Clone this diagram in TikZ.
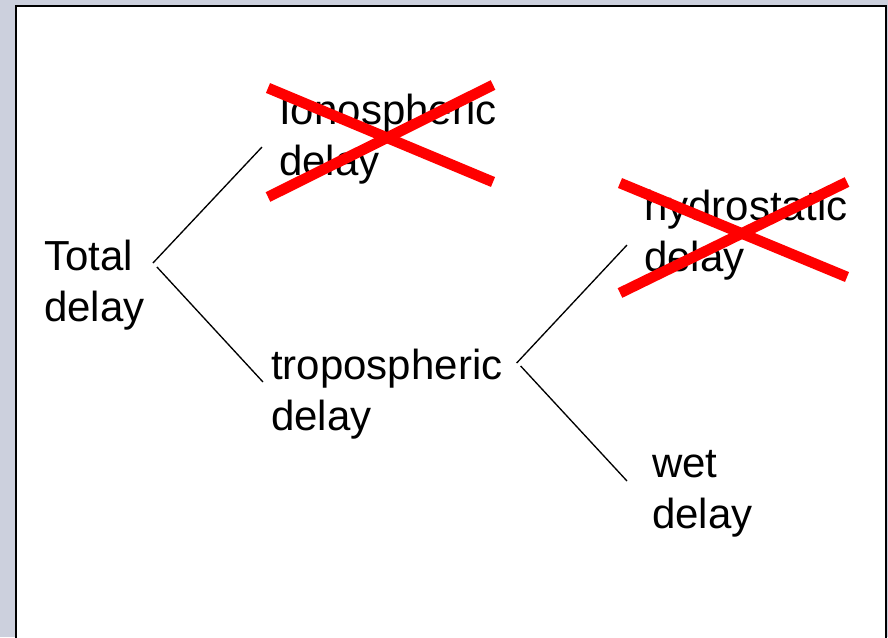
\documentclass[tikz,border=0pt]{standalone}
\usepackage{fontspec}
\setmainfont{Liberation Sans}
\usepackage{tikz}

\definecolor{slidebg}{RGB}{204,208,221}
\tikzset{
  lbl/.style={anchor=base west, inner sep=0pt, align=left, font=\fontsize{31.5}{38.2}\selectfont},
  link/.style={color=black, line width=1pt},
  strike/.style={color=red, line width=8pt}
}

\begin{document}
\begin{tikzpicture}[x=0.75pt,y=0.75pt,yscale=-1,xscale=1]
\useasboundingbox (0,0) rectangle (888,637);
\clip (0,0) rectangle (888,637);

%Background
\fill [slidebg] (0,0) rectangle (888,637);
%Shape: Rectangle
\draw [line width=1.5pt, fill=white] (16,6) rectangle (886,660);

% Text Node
\node [lbl] (total) at (44,321) {Total\\delay};
% Text Node
\node [lbl] (iono) at (279,175) {Ionospheric\\delay};
% Text Node
\node [lbl] (tropo) at (271,430) {tropospheric\\delay};
% Text Node
\node [lbl] (hydro) at (644,271) {hydrostatic\\delay};
% Text Node
\node [lbl] (wet) at (652,528) {wet\\delay};

%Straight Lines
\draw [link] ([shift={(8,-58)}]total.base east) -- ([shift={(-17,-28)}]iono.base west);
\draw [link] ([shift={(12,-54)}]total.base east) -- ([shift={(-8,-48)}]tropo.base west);
%Straight Lines
\draw [link] ([shift={(14,-67)}]tropo.base east) -- ([shift={(-17,-26)}]hydro.base west);
\draw [link] ([shift={(18,-64)}]tropo.base east) -- ([shift={(-25,-47)}]wet.base west);

%Crosses
\draw [strike] (268,88) -- (493,182);
\draw [strike] (268,197) -- (493,85);
\draw [strike] (620,183) -- (847,277);
\draw [strike] (620,293) -- (847,182);

\end{tikzpicture}
\end{document}
